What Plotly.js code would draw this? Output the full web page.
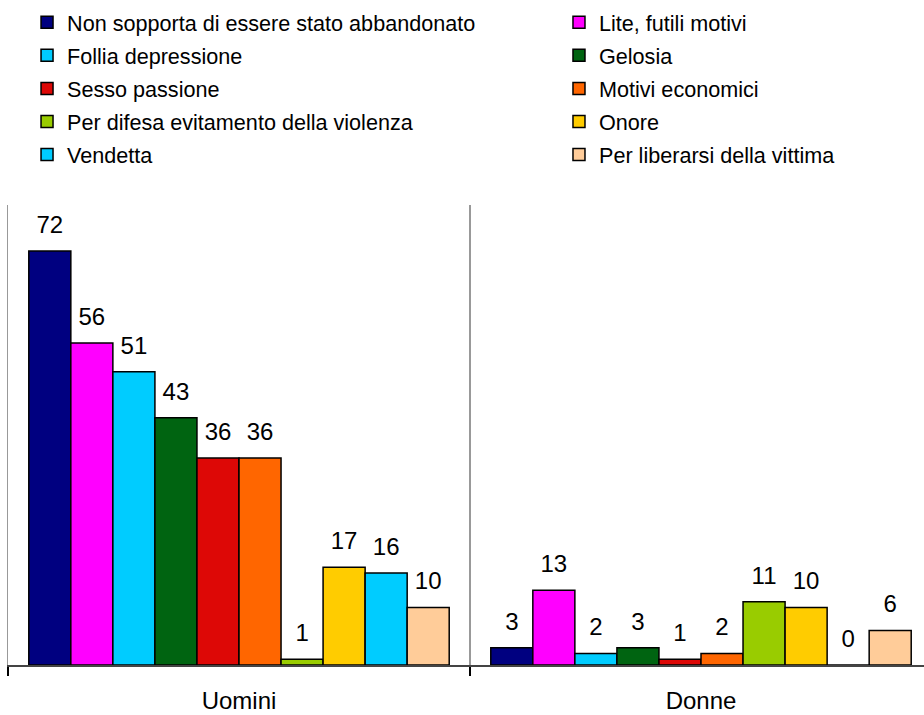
<!DOCTYPE html>
<html>
<head>
<meta charset="utf-8">
<script src="https://cdn.plot.ly/plotly-3.0.1.min.js"></script>
<style>
html, body { margin: 0; padding: 0; overflow: hidden; background: #fff; }
#chart { width: 940px; height: 715px; }
</style>
</head>
<body>
<div id="chart"></div>
<script>
const categories = ["Uomini", "Donne"];

const seriesNames = [
  "Non sopporta di essere stato abbandonato",
  "Lite, futili motivi",
  "Follia depressione",
  "Gelosia",
  "Sesso passione",
  "Motivi economici",
  "Per difesa evitamento della violenza",
  "Onore",
  "Vendetta",
  "Per liberarsi della vittima"
];

const nonSopporta = [72, 3];
const liteFutili = [56, 13];
const follia = [51, 2];
const gelosia = [43, 3];
const sessoPassione = [36, 1];
const motiviEconomici = [36, 2];
const perDifesa = [1, 11];
const onore = [17, 10];
const vendetta = [16, 0];
const perLiberarsi = [10, 6];

const seriesValues = [nonSopporta, liteFutili, follia, gelosia, sessoPassione,
  motiviEconomici, perDifesa, onore, vendetta, perLiberarsi];

const seriesColors = ["#000080", "#FF00FF", "#00CCFF", "#006411", "#DD0806",
  "#FF6600", "#99CC00", "#FFCC00", "#00CCFF", "#FFCC99"];

const FONT = '"Liberation Sans", Arial, sans-serif';

const traces = [];
seriesNames.forEach((name, i) => {
  traces.push({
    type: 'bar',
    name: name,
    x: categories,
    y: seriesValues[i],
    legend: (i % 2 === 0) ? 'legend' : 'legend2',
    legendgroup: 'g' + i,
    marker: { color: seriesColors[i], line: { color: '#000', width: 1.5 } },
    hoverinfo: 'x+y+name'
  });
});
seriesNames.forEach((name, i) => {
  traces.push({
    type: 'scatter',
    mode: 'markers+text',
    name: name + ' ',
    x: categories,
    y: seriesValues[i],
    text: seriesValues[i].map(String),
    textposition: 'top center',
    textfont: { family: FONT, size: 24, color: '#000' },
    marker: { size: 18, color: 'rgba(0,0,0,0)' },
    showlegend: false,
    hoverinfo: 'skip',
    cliponaxis: false
  });
});

const legendCommon = {
  orientation: 'v',
  xref: 'paper', yref: 'paper',
  y: 1.442,
  xanchor: 'left', yanchor: 'top',
  traceorder: 'grouped',
  tracegroupgap: 2,
  font: { family: FONT, size: 21.6, color: '#000' },
  itemwidth: 30,
  bgcolor: 'rgba(0,0,0,0)',
  borderwidth: 0
};

const layout = {
  width: 940,
  height: 715,
  margin: { l: 8, r: 8, t: 205, b: 50, autoexpand: false },
  paper_bgcolor: '#fff',
  plot_bgcolor: '#fff',
  font: { family: FONT, color: '#000' },
  barmode: 'group',
  bargap: 0.09,
  bargroupgap: 0,
  scattermode: 'group',
  scattergap: 0.09,
  showlegend: true,
  legend: Object.assign({}, legendCommon, { x: 0.0206 }),
  legend2: Object.assign({}, legendCommon, { x: 0.5963 }),
  xaxis: {
    type: 'category',
    showline: true,
    linecolor: '#444',
    linewidth: 1.5,
    ticks: 'outside',
    tickson: 'boundaries',
    ticklen: 9,
    tickwidth: 1.5,
    tickcolor: '#000',
    showgrid: true,
    gridcolor: '#999',
    gridwidth: 1.5,
    tickfont: { family: FONT, size: 24, color: '#000' },
    ticklabelstandoff: 14,
    fixedrange: true
  },
  yaxis: {
    range: [0, 80],
    showline: true,
    linecolor: '#999',
    linewidth: 1.5,
    showticklabels: false,
    ticks: '',
    showgrid: false,
    zeroline: false,
    fixedrange: true
  }
};

Plotly.newPlot('chart', traces, layout, { displayModeBar: false, staticPlot: true });
</script>
</body>
</html>
